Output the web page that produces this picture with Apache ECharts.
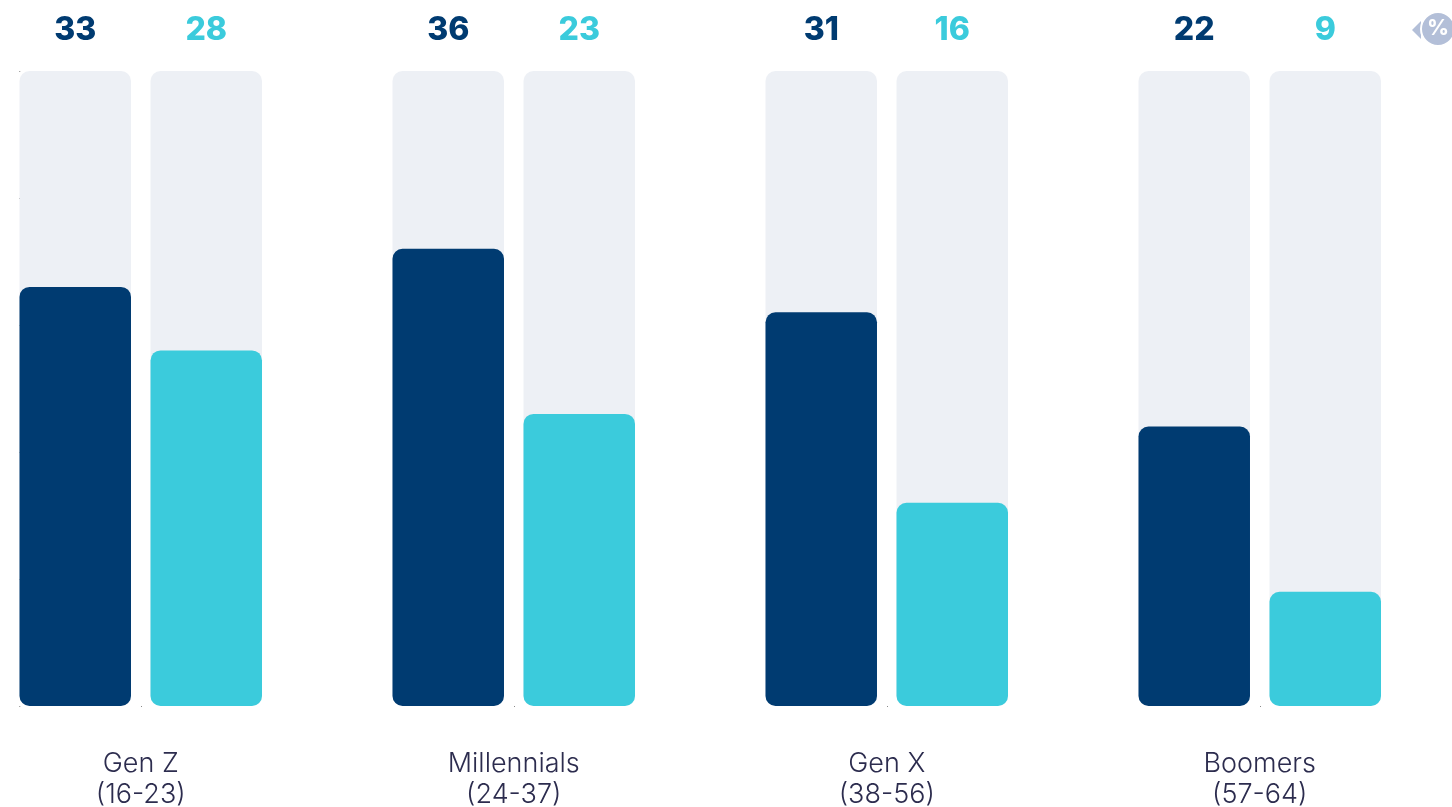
<!DOCTYPE html>
<html>
<head>
<meta charset="utf-8">
<style>html,body{margin:0;padding:0;background:#fff}#chart{width:1452px;height:807px}</style>
<script src="https://cdn.jsdelivr.net/npm/echarts@6/dist/echarts.min.js"></script>
</head>
<body>
<div id="chart"></div>
<script>
// Share of each generation, two measures per group (%)
const categories = ['Gen Z\n(16-23)', 'Millennials\n(24-37)', 'Gen X\n(38-56)', 'Boomers\n(57-64)'];
const darkValues = [33, 36, 31, 22];
const lightValues = [28, 23, 16, 9];
const DARK = '#003b71';
const LIGHT = '#3bcbdc';
const TRACK = '#edf0f5';
const FONT = 'Inter, "Noto Sans", sans-serif';

function barSeries(values, color) {
  return {
    type: 'bar',
    data: values,
    barWidth: 111.5,
    barGap: '17.5%',
    showBackground: true,
    backgroundStyle: { color: TRACK, borderRadius: 10 },
    itemStyle: { color: color, borderRadius: 10 },
    label: {
      show: true,
      position: 'top',
      color: color,
      fontFamily: FONT,
      fontWeight: 800,
      fontSize: 32
    },
    // All value labels sit on one line above the tracks
    labelLayout: { y: 30, align: 'center', verticalAlign: 'middle' },
    silent: true
  };
}

const chart = echarts.init(document.getElementById('chart'), null, { renderer: 'canvas' });
chart.setOption({
  animation: false,
  backgroundColor: '#fff',
  grid: { left: -45.75, right: 5.75, top: 71, bottom: 101, outerBoundsMode: 'none' },
  xAxis: {
    type: 'category',
    data: categories,
    axisLine: { show: false },
    axisTick: { show: true, alignWithLabel: true, length: 1, lineStyle: { color: '#8a8a8a', width: 1 } },
    axisLabel: {
      color: '#2c2c4e',
      fontFamily: FONT,
      fontWeight: 300,
      fontSize: 27,
      lineHeight: 31,
      margin: 42,
      interval: 0
    }
  },
  yAxis: {
    type: 'value',
    min: 0,
    max: 50,
    interval: 10,
    offset: -66,
    axisLine: { show: false },
    axisLabel: { show: false },
    splitLine: { show: false },
    axisTick: { show: true, length: 1, lineStyle: { color: '#8a8a8a', width: 1 } }
  },
  series: [barSeries(darkValues, DARK), barSeries(lightValues, LIGHT)],
  graphic: [
    // Unit badge in the top-right corner
    { type: 'polygon', shape: { points: [[1412, 30], [1421, 21], [1421, 39]] }, style: { fill: '#b3bfd8' } },
    { type: 'circle', shape: { cx: 1438, cy: 29, r: 17 }, style: { fill: '#b3bfd8', stroke: '#fff', lineWidth: 2 } },
    { type: 'text', x: 1438, y: 29, style: { text: '%', fill: '#fff', fontFamily: FONT, fontWeight: 800, fontSize: 21, align: 'center', verticalAlign: 'middle' } }
  ]
});
</script>
</body>
</html>
